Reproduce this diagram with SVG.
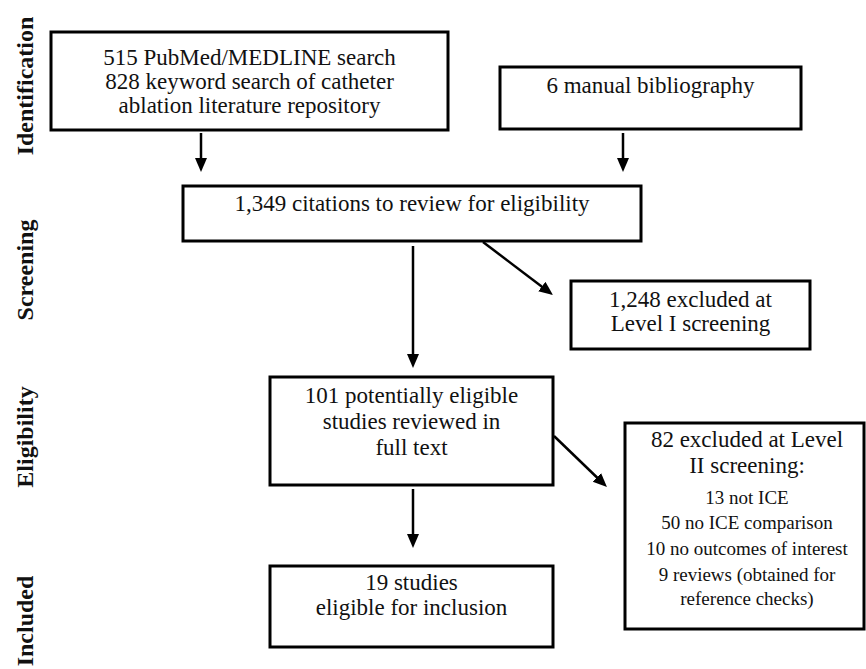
<svg xmlns="http://www.w3.org/2000/svg" width="866" height="669" viewBox="0 0 866 669">
<style>
.box{fill:#fff;stroke:#000;stroke-width:3}
.t{font-family:"Liberation Serif","Times New Roman",serif;font-size:23px;fill:#111;text-anchor:middle}
.s{font-size:19px}
.lab{font-family:"Liberation Serif","Times New Roman",serif;font-size:24px;font-weight:bold;fill:#111;text-anchor:middle}
.c{stroke:#000;stroke-width:2.5;fill:none;marker-end:url(#ah)}
</style>
<defs>
<marker id="ah" markerUnits="userSpaceOnUse" markerWidth="16" markerHeight="14" refX="6" refY="6" orient="auto">
<path d="M0,0 L14,6 L0,12 z" fill="#000"/>
</marker>
</defs>
<rect width="866" height="669" fill="#fff"/>
<g id="stage-labels">
<text class="lab" transform="translate(33,86) rotate(-90)">Identification</text>
<text class="lab" transform="translate(33,270) rotate(-90)">Screening</text>
<text class="lab" transform="translate(33,437) rotate(-90)">Eligibility</text>
<text class="lab" transform="translate(33,621) rotate(-90)">Included</text>
</g>
<g id="connectors">
<line class="c" x1="201" y1="133" x2="201" y2="164"/>
<line class="c" x1="623" y1="133" x2="623" y2="164"/>
<line class="c" x1="413" y1="246" x2="413" y2="360"/>
<line class="c" x1="483" y1="242" x2="546.6" y2="290.2"/>
<line class="c" x1="413" y1="489" x2="413" y2="540"/>
<line class="c" x1="554" y1="436" x2="601.2" y2="481.5"/>
</g>
<g id="n-search">
<rect class="box" x="51" y="32" width="397" height="98"/>
<text class="t" x="249.5" y="65">515 PubMed/MEDLINE search</text>
<text class="t" x="249.5" y="89">828 keyword search of catheter</text>
<text class="t" x="249.5" y="113">ablation literature repository</text>
</g>
<g id="n-manual">
<rect class="box" x="500" y="67" width="301" height="62"/>
<text class="t" x="650.5" y="93">6 manual bibliography</text>
</g>
<g id="n-citations">
<rect class="box" x="183" y="186" width="458" height="55"/>
<text class="t" x="412" y="211">1,349 citations to review for eligibility</text>
</g>
<g id="n-excl1">
<rect class="box" x="571" y="281" width="239" height="68"/>
<text class="t" x="690.5" y="307">1,248 excluded at</text>
<text class="t" x="690.5" y="331">Level I screening</text>
</g>
<g id="n-fulltext">
<rect class="box" x="270" y="377" width="283" height="108"/>
<text class="t" x="411.5" y="403">101 potentially eligible</text>
<text class="t" x="411.5" y="429">studies reviewed in</text>
<text class="t" x="411.5" y="455">full text</text>
</g>
<g id="n-excl2">
<rect class="box" x="625" y="423" width="239" height="206"/>
<text class="t" x="747" y="447">82 excluded at Level</text>
<text class="t" x="747" y="473">II screening:</text>
<text class="t s" x="747" y="504">13 not ICE</text>
<text class="t s" x="747" y="529">50 no ICE comparison</text>
<text class="t s" x="747" y="555">10 no outcomes of interest</text>
<text class="t s" x="747" y="581">9 reviews (obtained for</text>
<text class="t s" x="747" y="605">reference checks)</text>
</g>
<g id="n-included">
<rect class="box" x="270" y="566" width="283" height="81"/>
<text class="t" x="411.5" y="590">19 studies</text>
<text class="t" x="411.5" y="615">eligible for inclusion</text>
</g>
</svg>
